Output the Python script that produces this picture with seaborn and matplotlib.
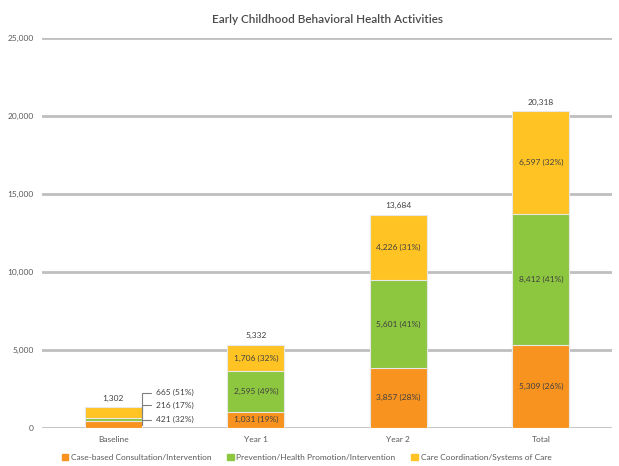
import matplotlib
matplotlib.use('Agg')
import matplotlib.pyplot as plt
import seaborn as sns
import pandas as pd
import numpy as np

# data
periods = ['Baseline', 'Year 1', 'Year 2', 'Total']
case_based = [421, 1031, 3857, 5309]
prevention = [216, 2595, 5601, 8412]
coordination = [665, 1706, 4226, 6597]
series_names = ['Case-based Consultation/Intervention',
                'Prevention/Health Promotion/Intervention',
                'Care Coordination/Systems of Care']
colors = ['#F7931E', '#8DC63F', '#FFC423']

df = pd.DataFrame({'period': periods, 'case': case_based,
                   'prev': prevention, 'coord': coordination})
df['total'] = df['case'] + df['prev'] + df['coord']
df['cum2'] = df['case'] + df['prev']

sns.set_style('white')
plt.rcParams['font.family'] = ['Lato', 'DejaVu Sans']

fig = plt.figure(figsize=(6.19, 4.66), dpi=100)
ax = fig.add_axes([0.068, 0.082, 0.921, 0.836])

# stacked bars drawn as overlapping cumulative bars
for col, c in zip(['total', 'cum2', 'case'], colors[::-1]):
    sns.barplot(data=df, x='period', y=col, color=c, width=0.4, saturation=1,
                edgecolor='#e8e8e8', linewidth=0.8, ax=ax, zorder=3)

ax.set_ylim(0, 25000)
ax.set_yticks(np.arange(0, 25001, 5000))
ax.set_yticklabels([f'{v:,}' for v in np.arange(0, 25001, 5000)])
ax.yaxis.grid(True, color='#bfbfbf', linewidth=2, zorder=0)
ax.set_axisbelow(True)
sns.despine(ax=ax, left=True, bottom=True)
ax.tick_params(axis='both', labelsize=6, colors='#595959', length=0, pad=6)
ax.set_xlabel('')
ax.set_ylabel('')
ax.set_xlim(-0.5, 3.5)
ax.set_title('Early Childhood Behavioral Health Activities', fontsize=8.5,
             color='#4a4a4a', fontweight='semibold', pad=11)

txt_color = '#404040'
for i, p in enumerate(periods):
    tot = df['total'][i]
    parts = [case_based[i], prevention[i], coordination[i]]
    ax.text(i, tot + 350, f'{tot:,}', ha='center', va='bottom',
            fontsize=6, color=txt_color)
    bottoms = np.cumsum([0] + parts[:-1])
    if i == 0:
        # small bar: labels to the side with leader lines
        offsets = [3.5, 10.5, 14.5]
        for v, b, off in zip(parts, bottoms, offsets):
            ax.annotate(f'{v:,} ({round(100 * v / tot)}%)',
                        xy=(i + 0.2, b + v / 2), xytext=(10, off),
                        textcoords='offset points', fontsize=6,
                        color=txt_color, va='center',
                        arrowprops=dict(arrowstyle='-', color='#7f7f7f',
                                        lw=0.8, shrinkA=1, shrinkB=0,
                                        connectionstyle='angle,angleA=0,angleB=90,rad=0'))
    else:
        for v, b in zip(parts, bottoms):
            ax.text(i, b + v / 2, f'{v:,} ({round(100 * v / tot)}%)',
                    ha='center', va='center', fontsize=6, color=txt_color)

handles = [plt.Rectangle((0, 0), 1, 1, color=c) for c in colors]
fig.legend(handles, series_names, loc='lower center', ncol=3, frameon=False,
           fontsize=6, labelcolor='#595959', handlelength=0.8, handleheight=0.8,
           handletextpad=0.3, columnspacing=1.9, bbox_to_anchor=(0.495, -0.005))

fig.savefig('out.png', dpi=100)
